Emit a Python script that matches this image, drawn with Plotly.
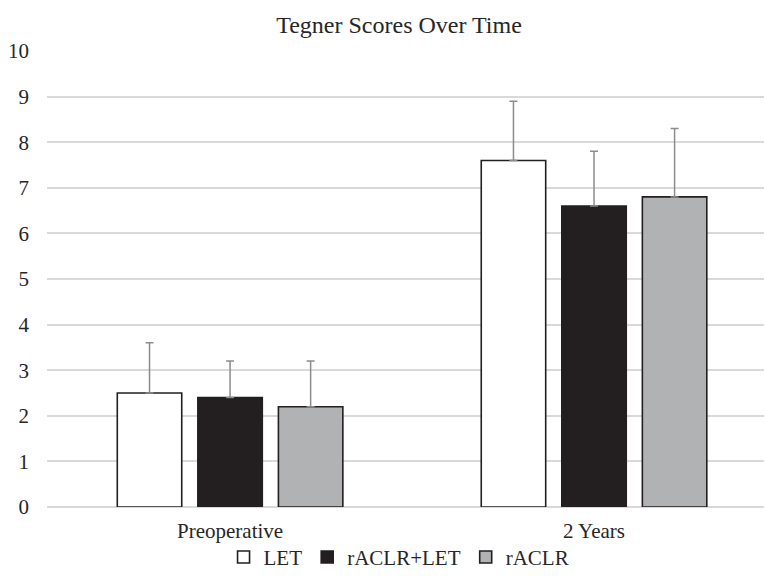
import plotly.graph_objects as go

categories = ["Preoperative", "2 Years"]
series_names = ["LET", "rACLR+LET", "rACLR"]
let_vals = [2.5, 7.6]
let_err = [1.1, 1.3]
raclr_let_vals = [2.4, 6.6]
raclr_let_err = [0.8, 1.2]
raclr_vals = [2.2, 6.8]
raclr_err = [1.0, 1.5]
y_ticks = [0, 1, 2, 3, 4, 5, 6, 7, 8, 9, 10]

colors = ["#ffffff", "#231f20", "#b1b2b4"]
values = [let_vals, raclr_let_vals, raclr_vals]
errors = [let_err, raclr_let_err, raclr_err]

font_family = "Liberation Serif, Times New Roman, serif"
text_color = "#262626"

fig = go.Figure()
for name, vals, errs, col in zip(series_names, values, errors, colors):
    fig.add_trace(go.Bar(
        name=name,
        x=categories,
        y=vals,
        marker=dict(color=col, line=dict(color="#231f20", width=1.6)),
        error_y=dict(type="data", symmetric=False, array=errs,
                     arrayminus=[0] * len(errs),
                     color="#8c8c8c", thickness=1.5, width=4),
    ))

fig.update_layout(
    width=765, height=578,
    margin=dict(l=47, r=1, t=51, b=71, autoexpand=False),
    paper_bgcolor="white", plot_bgcolor="white",
    font=dict(family=font_family, size=21, color=text_color),
    title=dict(text="Tegner Scores Over Time", x=0.5216, xanchor="center",
               y=0.9567, yanchor="middle", font=dict(size=24, color=text_color)),
    barmode="group", bargap=0.336, bargroupgap=0.2,
    showlegend=True,
    legend=dict(orientation="h", x=0.491, xanchor="center", y=-0.1555, yanchor="bottom",
                font=dict(size=21), itemwidth=30, traceorder="normal",
                bgcolor="rgba(0,0,0,0)"),
    xaxis=dict(type="category", range=[-0.503, 1.467], showgrid=False, showline=False,
               ticks="", zeroline=False, ticklabelstandoff=9),
    yaxis=dict(range=[0, 10], tickvals=y_ticks, showgrid=True, gridcolor="#d9d9d9",
               gridwidth=1.5, zeroline=True, zerolinecolor="#d9d9d9", zerolinewidth=1.5,
               ticks="", showline=False, ticklabelstandoff=17),
)

fig.write_html(
    "out.html",
    config={"displayModeBar": False},
    post_script="document.body.style.margin='0';document.body.style.overflow='hidden';",
)
